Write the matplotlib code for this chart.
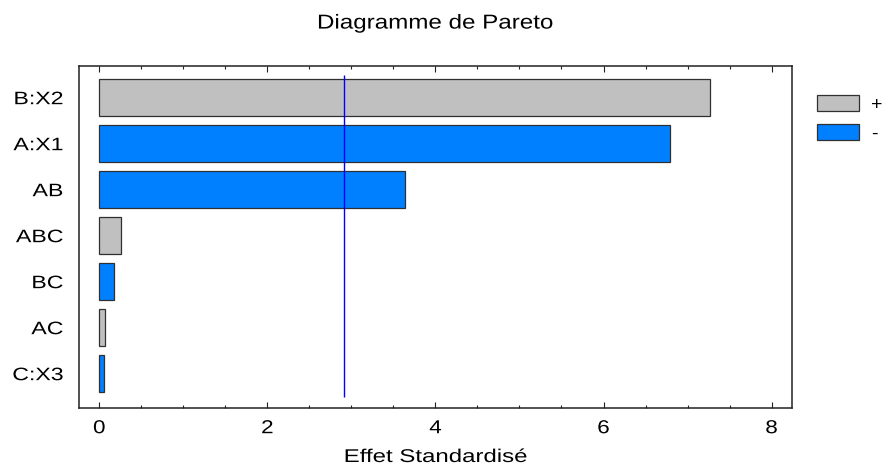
import matplotlib
matplotlib.use('Agg')
import matplotlib.pyplot as plt
from matplotlib.ticker import MultipleLocator
from matplotlib.patches import Patch
from matplotlib.patheffects import AbstractPathEffect
from matplotlib.transforms import Affine2D

# ---- data ----
factors = ['B:X2', 'A:X1', 'AB', 'ABC', 'BC', 'AC', 'C:X3']
effects = [7.27, 6.79, 3.64, 0.26, 0.17, 0.07, 0.06]
signs = ['+', '-', '-', '+', '-', '+', '-']
critical_value = 2.91
title = 'Diagramme de Pareto'
xlabel = 'Effet Standardisé'
xticks = [0, 2, 4, 6, 8]
legend_labels = ['+', '-']

plt.rcParams['font.family'] = ['Liberation Sans', 'DejaVu Sans']


class HStretch(AbstractPathEffect):
    """Horizontally widen glyphs, keeping the text anchor in place."""
    def __init__(self, sx, anchor):
        super().__init__()
        self.sx = sx
        self.anchor = anchor

    def draw_path(self, renderer, gc, tpath, affine, rgbFace=None):
        try:
            ext = tpath.get_extents()
            px = ext.x0 + self.anchor * (ext.x1 - ext.x0) if self.anchor > 0 else 0.0
        except Exception:
            px = 0.0
        t = Affine2D().translate(-px, 0).scale(self.sx, 1.0).translate(px, 0)
        renderer.draw_path(gc, tpath, t + affine, rgbFace)


SX = 1.28
col = {'+': '#C0C0C0', '-': '#0080FF'}
edge = '#303030'

fig = plt.figure(figsize=(8.87, 4.72), dpi=100)
W, H = 887, 472
ax = fig.add_axes([79 / W, (H - 407.7) / H, (792 - 79) / W, (407.7 - 65.5) / H])

ypos = list(range(len(factors)))
ax.barh(ypos, effects, height=0.8, color=[col[s] for s in signs],
        edgecolor=edge, linewidth=0.9)
ax.vlines(critical_value, -0.5, 6.5, color='#0000FF', linewidth=1.0)

ax.set_xlim(-0.2415, 8.243)
ax.set_ylim(6.74, -0.70)

ax.set_yticks(ypos)
ax.set_yticklabels(factors)
ax.set_xticks(xticks)
ax.set_xticklabels([str(v) for v in xticks])
ax.xaxis.set_minor_locator(MultipleLocator(0.5))

ax.tick_params(axis='y', length=0, pad=11.5, labelsize=13)
ax.tick_params(axis='x', which='major', direction='in', length=4.3, width=0.8,
               top=True, bottom=True, pad=9, labelsize=13.5, color='#222222')
ax.tick_params(axis='x', which='minor', direction='in', length=2.0, width=0.8,
               top=True, bottom=True, color='#222222')

for sp in ax.spines.values():
    sp.set_color('#222222')
    sp.set_linewidth(1.1)

ax.set_xlabel(xlabel, fontsize=13.3, labelpad=8.5)
ax.set_title(title, fontsize=14.5, pad=26.6)

handles = [Patch(facecolor=col[s], edgecolor=edge, linewidth=0.9) for s in legend_labels]
leg = ax.legend(handles, legend_labels, loc='upper left',
                bbox_to_anchor=(817 / W, 1 - 94.7 / H), bbox_transform=fig.transFigure,
                frameon=False, borderpad=0, borderaxespad=0, fontsize=14,
                handlelength=2.17, handleheight=0.92, handletextpad=0.6,
                labelspacing=0.52)

for t in ax.get_yticklabels():
    t.set_path_effects([HStretch(SX, 1.0)])
for t in ax.get_xticklabels():
    t.set_path_effects([HStretch(1.2, 0.5)])
ax.xaxis.label.set_path_effects([HStretch(1.3, 0.5)])
ax.title.set_path_effects([HStretch(1.2, 0.5)])

fig.savefig('out.png', dpi=100)
